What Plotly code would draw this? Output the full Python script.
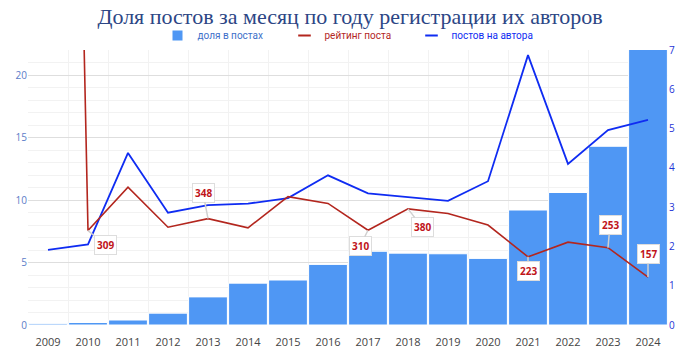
import plotly.graph_objects as go

# Registration year of authors
years = list(range(2009, 2025))

# Share of monthly posts (%), left axis
share_pct = [0.1, 0.2, 0.4, 0.95, 2.25, 3.35, 3.6, 4.85, 5.9, 5.75, 5.7, 5.33, 9.2, 10.6, 14.3, 22.4]

# Average post rating, own hidden axis
rating = [6500, 309, 451, 320, 348, 318, 420, 398, 310, 380, 365, 327, 223, 271, 253, 157]

# Posts per author, right axis
posts_per_author = [1.91, 2.05, 4.38, 2.86, 3.05, 3.09, 3.23, 3.81, 3.35, 3.26, 3.16, 3.66, 6.87, 4.1, 4.96, 5.22]

# Rating values that carry a callout label: (year, dx, dy)
rating_labels = [(2010, 17, 14), (2013, -5, -26), (2017, -8, 16), (2018, 14, 18),
                 (2021, 0, 14), (2023, 2, -23), (2024, 0, -23)]

BAR_C = "#4f97f4"
RED_C = "#b3261e"
BLUE_C = "#0f2cf2"
FONT = "Open Sans, sans-serif"

fig = go.Figure()
fig.add_trace(go.Bar(
    x=years, y=share_pct, yaxis="y", showlegend=False,
    marker=dict(color=BAR_C, line=dict(color="white", width=1)),
))
fig.add_trace(go.Scatter(
    x=years, y=rating, yaxis="y3", mode="lines", showlegend=False,
    line=dict(color=RED_C, width=1.6),
))
fig.add_trace(go.Scatter(
    x=years, y=posts_per_author, yaxis="y2", mode="lines", showlegend=False,
    line=dict(color=BLUE_C, width=1.8),
))

# Compact legend entries (short symbols)
legend_items = [
    ("доля в постах", "#3d6fc9", "square", BAR_C, 10, 0),
    ("рейтинг поста", RED_C, "line-ew", RED_C, 9, 2.2),
    ("постов на автора", BLUE_C, "line-ew", BLUE_C, 9, 2.2),
]
for label, tcolor, sym, mcolor, size, lw in legend_items:
    fig.add_trace(go.Scatter(
        x=[None], y=[None], mode="markers",
        name=f"<span style='color:{tcolor}'>{label}</span>",
        marker=dict(symbol=sym, color=mcolor, size=size,
                    line=dict(color=mcolor, width=lw)),
    ))

for yr, dx, dy in rating_labels:
    v = rating[years.index(yr)]
    fig.add_annotation(
        x=yr, y=v, xref="x", yref="y3",
        text=f"<b>{v}</b>", showarrow=True, arrowhead=0,
        arrowcolor="#d0d0d0", arrowwidth=1.5, ax=dx, ay=dy,
        bgcolor="white", bordercolor="#dddddd", borderwidth=1, borderpad=2,
        font=dict(family=FONT, size=10, color="#c0141a"),
    )

fig.update_layout(
    width=700, height=348,
    margin=dict(l=28, r=32, t=50, b=23, autoexpand=False),
    paper_bgcolor="white", plot_bgcolor="white",
    bargap=0.03,
    title=dict(
        text="Доля постов за месяц по году регистрации их авторов",
        x=0.5, xanchor="center", y=0.952, yanchor="middle", yref="container",
        font=dict(family="Liberation Serif, serif", size=22, color="#2c4685"),
    ),
    legend=dict(
        orientation="h", x=0.5, xanchor="center", y=1.0, yanchor="bottom",
        font=dict(family="Roboto, sans-serif", size=10),
        itemwidth=30, entrywidth=82, bgcolor="rgba(0,0,0,0)",
    ),
    showlegend=True,
    xaxis=dict(
        range=[2008.5, 2024.5], tickmode="linear", tick0=2009, dtick=1,
        showgrid=False, zeroline=False, showline=False, automargin=False,
        ticks="outside", ticklen=7, tickcolor="rgba(0,0,0,0)",
        tickfont=dict(family=FONT, size=11, color="#444444"),
        minor=dict(tick0=2008.5, dtick=1, showgrid=True, gridcolor="#f2f2f2", gridwidth=1),
    ),
    yaxis=dict(
        range=[0, 22], tickmode="linear", tick0=0, dtick=5, automargin=False,
        gridcolor="#dedede", gridwidth=1, zeroline=False, showline=False,
        tickfont=dict(family=FONT, size=10, color="#5b7cc8"),
        minor=dict(dtick=1, showgrid=True, gridcolor="#f2f2f2", gridwidth=1),
    ),
    yaxis2=dict(
        range=[0, 7], overlaying="y", side="right", tickmode="linear", dtick=1,
        showgrid=False, zeroline=False, showline=False, automargin=False,
        tickfont=dict(family=FONT, size=10, color="#1f34d6"),
    ),
    yaxis3=dict(
        range=[0, 900], overlaying="y", side="right", visible=False,
        showgrid=False, zeroline=False,
    ),
)

fig.write_html("out.html")
